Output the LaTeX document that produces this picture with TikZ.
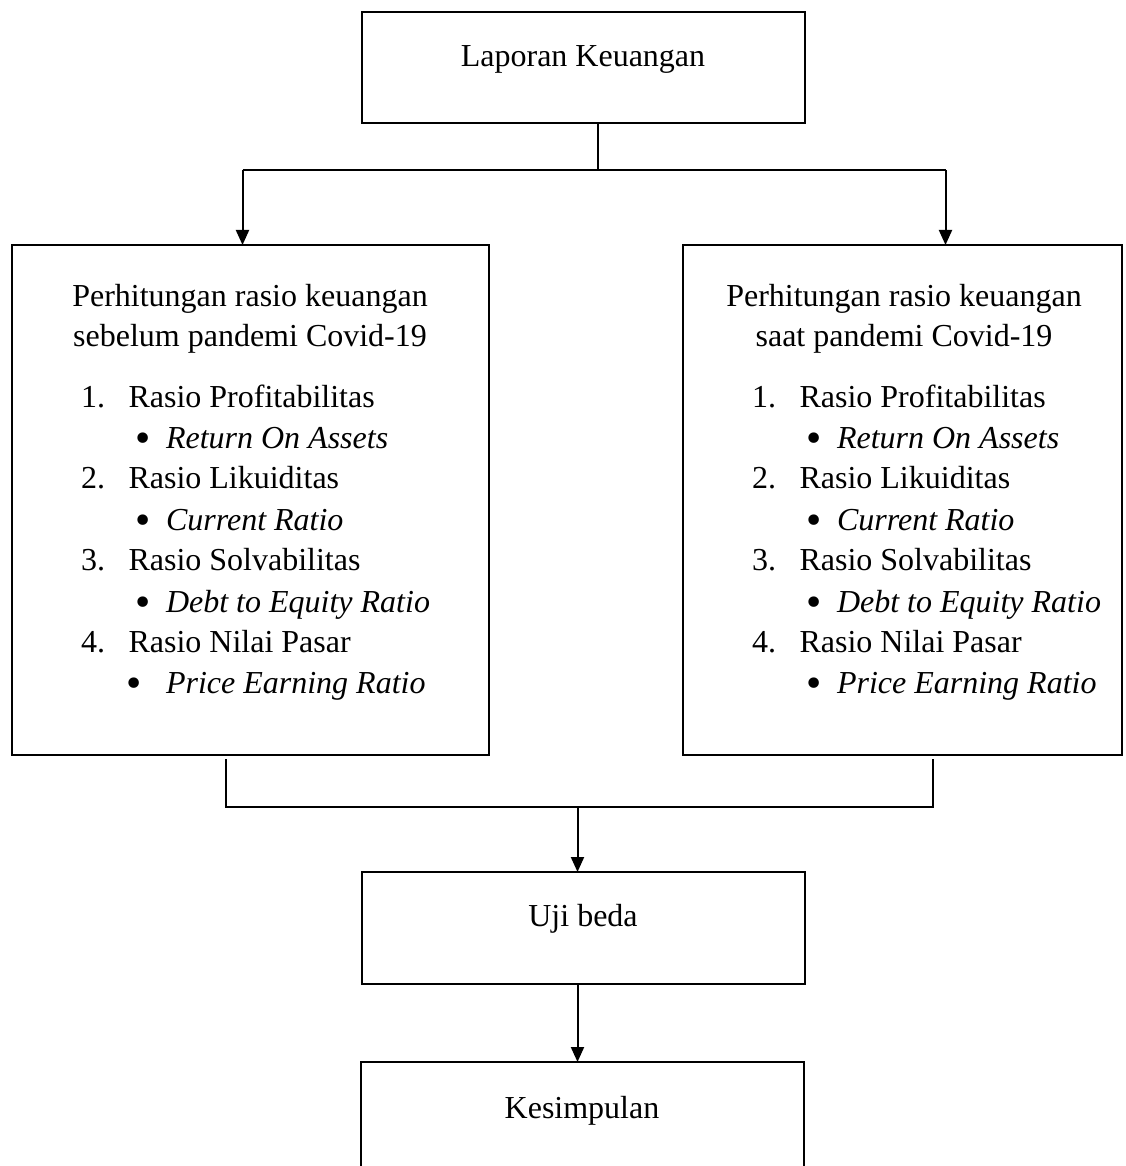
\documentclass[tikz,border=0pt]{standalone}
\usepackage{fontspec}
\setmainfont{Liberation Serif}
\newfontfamily\bulfont{DejaVu Sans}
\usetikzlibrary{arrows.meta}
\tikzset{
  box/.style={draw, line width=2.5pt, rectangle, inner sep=0pt, outer sep=0pt},
  txt/.style={inner sep=0pt, outer sep=0pt, font={\fontsize{32}{41}\selectfont}},
  itx/.style={inner sep=0pt, outer sep=0pt, font={\fontsize{32}{41}\selectfont\itshape}},
  bul/.style={inner sep=0pt, outer sep=0pt, anchor=base, font={\bulfont\fontsize{36}{41}\selectfont}},
  conn/.style={line width=2pt},
  arr/.style={line width=2pt, -{Triangle[length=15pt,width=13pt]}},
}
\newcommand{\bulmark}{\raisebox{-3pt}{•}}
\newcommand{\rlist}[5]{%
  \node[txt,anchor=base] (#1a) at (#3,306) {Perhitungan rasio keuangan};
  \node[txt,anchor=base] (#1b) at (#3,346) {#4};
  \node[txt,anchor=base west] (#1n1) at (#2+69,407) {1.};
  \node[txt,anchor=base west] (#1r1) at (#2+116.5,407) {Rasio Profitabilitas};
  \node[bul] (#1d1) at (#2+131,448) {\bulmark};
  \node[itx,anchor=base west] (#1i1) at (#2+154,448) {Return On Assets};
  \node[txt,anchor=base west] (#1n2) at (#2+69,488) {2.};
  \node[txt,anchor=base west] (#1r2) at (#2+116.5,488) {Rasio Likuiditas};
  \node[bul] (#1d2) at (#2+131,530) {\bulmark};
  \node[itx,anchor=base west] (#1i2) at (#2+154,530) {Current Ratio};
  \node[txt,anchor=base west] (#1n3) at (#2+69,570) {3.};
  \node[txt,anchor=base west] (#1r3) at (#2+116.5,570) {Rasio Solvabilitas};
  \node[bul] (#1d3) at (#2+131,612) {\bulmark};
  \node[itx,anchor=base west] (#1i3) at (#2+154,612) {Debt to Equity Ratio};
  \node[txt,anchor=base west] (#1n4) at (#2+69,652) {4.};
  \node[txt,anchor=base west] (#1r4) at (#2+116.5,652) {Rasio Nilai Pasar};
  \node[bul] (#1d4) at (#2+#5,693) {\bulmark};
  \node[itx,anchor=base west] (#1i4) at (#2+154,693) {Price Earning Ratio};
}
\begin{document}
\begin{tikzpicture}[x=1pt,y=-1pt]
  \clip (0,0) rectangle (1125,1166);
  \fill[white] (0,0) rectangle (1125,1166);

  % boxes
  \node[box, minimum width=443pt, minimum height=111pt] (top) at (583.5,67.5) {};
  \node[box, minimum width=477pt, minimum height=510pt] (lbox) at (250.5,500) {};
  \node[box, minimum width=439pt, minimum height=510pt] (rbox) at (902.5,500) {};
  \node[box, minimum width=443pt, minimum height=112pt] (uji) at (583.5,928) {};
  \node[box, minimum width=443pt, minimum height=112pt] (kes) at (582.5,1118) {};

  % texts
  \node[txt,anchor=base] (toptxt) at (583,67) {Laporan Keuangan};
  \node[txt,anchor=base] (ujitxt) at (583,926) {Uji beda};
  \node[txt,anchor=base] (kestxt) at (582,1118) {Kesimpulan};
  \rlist{L}{12}{250}{sebelum pandemi Covid-19}{122}
  \rlist{R}{683}{904}{saat pandemi Covid-19}{131}

  % connectors top
  \coordinate (jt) at (597.6,170);
  \coordinate (jl) at (242.5,170);
  \coordinate (jr) at (945.5,170);
  \draw[conn] (jt |- top.south) -- (jt);
  \draw[conn] (jl) -- (jr);
  \draw[arr] (jl) -- (jl |- lbox.north);
  \draw[arr] (jr) -- (jr |- rbox.north);

  % connectors bottom
  \coordinate (bl) at (226,807);
  \coordinate (br) at (932.6,807);
  \coordinate (bm) at (577.5,807);
  \coordinate (bls) at (226,759);
  \coordinate (brs) at (932.6,759);
  \draw[conn] (bls) -- (bl) -- (br) -- (brs);
  \draw[arr] (bm) -- (bm |- uji.north);
  \draw[arr] (bm |- uji.south) -- (bm |- kes.north);
\end{tikzpicture}
\end{document}
